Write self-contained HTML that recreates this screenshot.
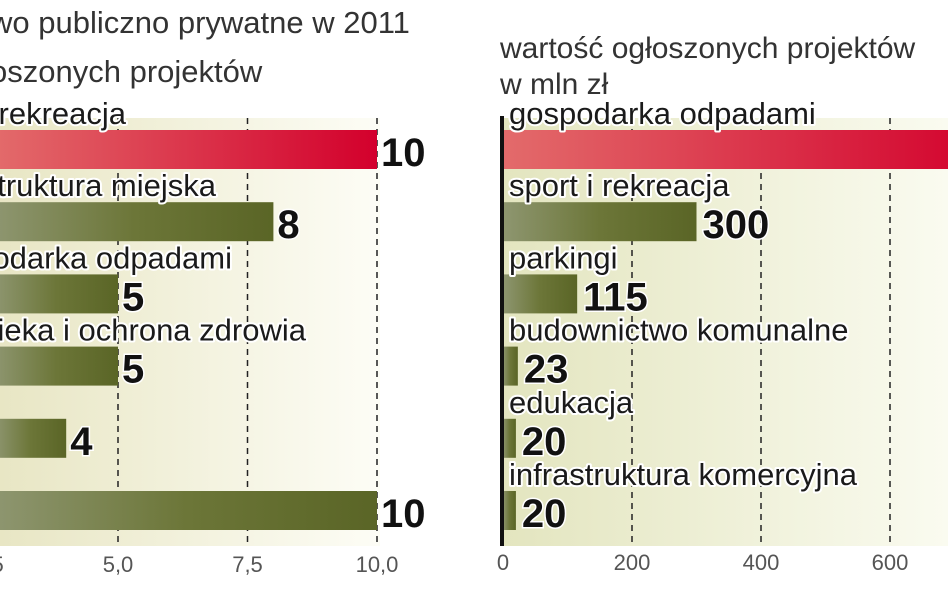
<!DOCTYPE html>
<html><head><meta charset="utf-8"><style>
html,body{margin:0;padding:0;background:#fff;}
svg{display:block;}
.t{font-family:"Liberation Sans Narrow","Liberation Sans",sans-serif;}
.lab{font-family:"Liberation Sans Narrow","Liberation Sans",sans-serif;font-size:31px;fill:#1a1a1a;stroke:#fff;stroke-width:4px;paint-order:stroke;stroke-linejoin:round;}
.val{font-family:"Liberation Sans Narrow","Liberation Sans",sans-serif;font-weight:bold;font-size:40px;fill:#111;stroke:#fff;stroke-width:3px;paint-order:stroke;}
.tick{font-family:"Liberation Sans Narrow","Liberation Sans",sans-serif;font-size:22px;fill:#555;}
</style></head><body>
<svg id="c" width="948" height="593" viewBox="0 0 948 593" xmlns="http://www.w3.org/2000/svg">
<defs>
<linearGradient id="bgL" x1="0" x2="1" y1="0" y2="0"><stop offset="0" stop-color="#e8e6c4"/><stop offset="1" stop-color="#fdfdf6"/></linearGradient>
<linearGradient id="bgR" x1="0" x2="1" y1="0" y2="0"><stop offset="0" stop-color="#e3e5bf"/><stop offset="1" stop-color="#fafbf0"/></linearGradient>
<linearGradient id="red" x1="0" x2="1" y1="0" y2="0"><stop offset="0" stop-color="#e36b6b"/><stop offset="1" stop-color="#d3002c"/></linearGradient>
<linearGradient id="grn" x1="0" x2="1" y1="0" y2="0"><stop offset="0" stop-color="#8e9670"/><stop offset="0.5" stop-color="#6c7638"/><stop offset="1" stop-color="#5a6526"/></linearGradient>
</defs>
<text class="t" x="-10" y="33" font-size="31" fill="#333">wo publiczno prywatne w 2011</text>
<text class="t" x="-10" y="82" font-size="31" fill="#333">oszonych projektów</text>
<text class="t" x="500" y="58" font-size="30" fill="#333">wartość ogłoszonych projektów</text>
<text class="t" x="500" y="94" font-size="30" fill="#333">w mln zł</text>
<rect x="0" y="118" width="380" height="428" fill="url(#bgL)"/>
<rect x="503" y="118" width="445" height="428" fill="url(#bgR)"/>
<g id="L"></g><g id="R"></g>
<rect x="500" y="116" width="4" height="430" fill="#111"/>
</svg>
<script>
const leftCats=["sport i rekreacja","infrastruktura miejska","gospodarka odpadami","opieka i ochrona zdrowia","inne","pozostałe"];
const leftVals=[10,8,5,5,4,10];
const leftTicks=[2.5,5.0,7.5,10.0];
const leftTickLabels=["2,5","5,0","7,5","10,0"];
const rightCats=["gospodarka odpadami","sport i rekreacja","parkingi","budownictwo komunalne","edukacja","infrastruktura komercyjna"];
const rightVals=[760,300,115,23,20,20];
const rightTicks=[0,200,400,600];
const rightTickLabels=["0","200","400","600"];
const NS="http://www.w3.org/2000/svg";
function mk(p,tag,a){const e=document.createElementNS(NS,tag);for(const k in a)e.setAttribute(k,a[k]);p.appendChild(e);return e;}
const xL=v=>-141+v*51.8;
const xR=v=>503+v*0.645;
const rowY=i=>130+i*72.2;
const barH=39;
// left labels end positions (text cropped at left edge)
const leftLabelEnd=[126,216,232,306,-20,-20];
const L=document.getElementById('L'),R=document.getElementById('R');
leftTicks.forEach((t,i)=>{
  const g=mk(L,'line',{x1:xL(t),x2:xL(t),y1:118,y2:546,stroke:'#222','stroke-width':1.5,'stroke-dasharray':'6,5'});
  
  
  const tx=mk(L,'text',{x:xL(t),y:572,'text-anchor':'middle',class:'tick'});tx.textContent=leftTickLabels[i];
  
  
});
leftVals.forEach((v,i)=>{
  const y=rowY(i);
  const r=mk(L,'rect',{x:-5,y:y,width:xL(v)+5,height:barH,fill:i==0?'url(#red)':'url(#grn)'});
  
  
  const lb=mk(L,'text',{x:leftLabelEnd[i],y:y-6,'text-anchor':'end',class:'lab'});lb.textContent=leftCats[i];
  
  
  const vt=mk(L,'text',{x:xL(v)+4,y:y+36,class:'val'});vt.textContent=v;
  
  
});
rightTicks.forEach((t,i)=>{
  if(t>0){const g=mk(R,'line',{x1:xR(t),x2:xR(t),y1:118,y2:546,stroke:'#222','stroke-width':1.5,'stroke-dasharray':'6,5'});
  
  }
  const tx=mk(R,'text',{x:xR(t),y:570,'text-anchor':'middle',class:'tick'});tx.textContent=rightTickLabels[i];
  
  
});
rightVals.forEach((v,i)=>{
  const y=rowY(i);
  const r=mk(R,'rect',{x:503,y:y,width:xR(v)-503,height:barH,fill:i==0?'url(#red)':'url(#grn)'});
  
  
  const lb=mk(R,'text',{x:509,y:y-6,class:'lab'});lb.textContent=rightCats[i];
  
  
  const vt=mk(R,'text',{x:xR(v)+6,y:y+36,class:'val'});vt.textContent=v;
  
  
});
</script>
</body></html>
